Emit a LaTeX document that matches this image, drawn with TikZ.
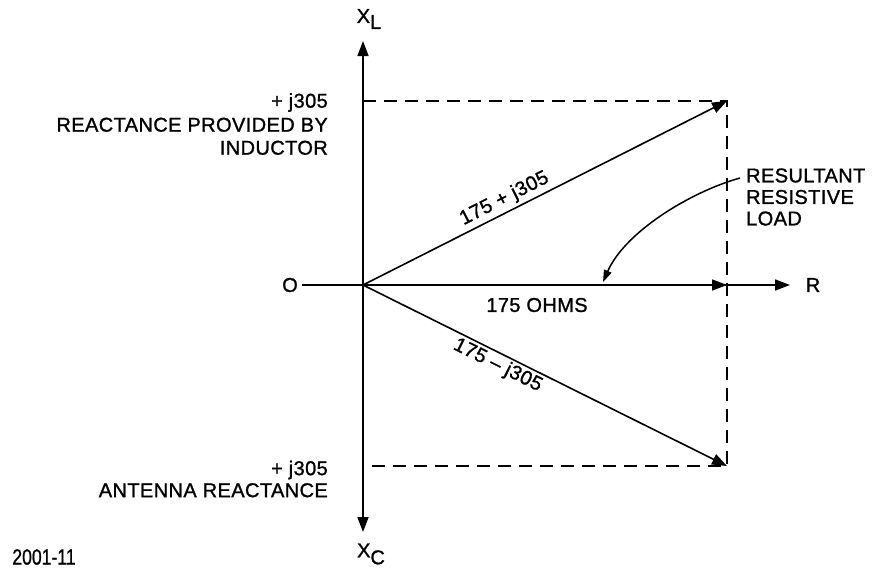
\documentclass[tikz,border=0pt]{standalone}
\usepackage{fontspec}
\setmainfont{Liberation Sans}[LetterSpace=2,FakeBold=1.2]
\newfontfamily\plainfont{Liberation Sans}[FakeBold=1]
\usetikzlibrary{arrows.meta}
\tikzset{
  axis/.style={line width=1.7pt, -{Triangle[length=15pt,width=11pt]}},
  vec/.style={line width=1.6pt, -{Triangle[length=15pt,width=11pt]}},
  guide/.style={line width=1.7pt, dash pattern=on 13pt off 8pt},
  pointer/.style={line width=1.5pt, -{Triangle[length=12pt,width=8pt]}},
  lbl/.style={inner sep=0pt, font=\fontsize{20}{23}\selectfont},
}
\begin{document}
\begin{tikzpicture}[x=1pt,y=-1pt]
\useasboundingbox (0,0) rectangle (872,573);
% points
\coordinate (O) at (363,285);
\coordinate (top) at (363,41);
\coordinate (bot) at (363,532);
\coordinate (right) at (790,285);
\coordinate (P) at (727,101);
\coordinate (Q) at (727,466);
\coordinate (M) at (727,285);
\coordinate (yt) at (363,101);
\coordinate (yb) at (363,466);
\coordinate (ps) at (740,178);
\coordinate (pe) at (603,282);
% labels
\node[lbl, anchor=east] (olab) at (298,285) {O};
\node[lbl] (xl) at (369,19) {X\raisebox{-6pt}{L}};
\node[lbl] (xc) at (371,554) {X\raisebox{-7pt}{C}};
\node[lbl] (rlab) at (813,285) {R};
\node[lbl, anchor=east, align=right] (ind) at (328,124) {+ j305\\[1pt]REACTANCE PROVIDED BY\\INDUCTOR};
\node[lbl, anchor=east, align=right, font=\fontsize{20}{22}\selectfont] (ant) at (328,479) {+ j305\\ANTENNA REACTANCE};
\node[lbl, anchor=west, align=left, font=\fontsize{20}{21.5}\selectfont] (res) at (746,197) {RESULTANT\\RESISTIVE\\LOAD};
\node[lbl] (ohms) at (537,305) {175 OHMS};
\node[inner sep=0pt, font=\plainfont\fontsize{22}{24}\selectfont, xscale=0.8] (fig) at (44,557) {2001-11};
% axes
\draw[line width=1.7pt] ([xshift=4pt]olab.east) -- (O);
\draw[axis] (O) -- (top);
\draw[axis] (O) -- (bot);
\draw[axis] (O) -- (right);
% dashed guides
\draw[guide] (yt) -- (P) -- (Q) -- (yb);
% vectors
\draw[vec] (O) -- node[lbl, sloped, above=3pt, pos=0.405] (vu) {175 + j305} (P);
\draw[vec] (O) -- (M);
\draw[vec] (O) -- node[lbl, sloped, below=2pt, pos=0.385] (vd) {175 -- j305} (Q);
% pointer
\draw[pointer] (ps) .. controls (690,192) and (625,232) .. (pe);
\end{tikzpicture}
\end{document}
